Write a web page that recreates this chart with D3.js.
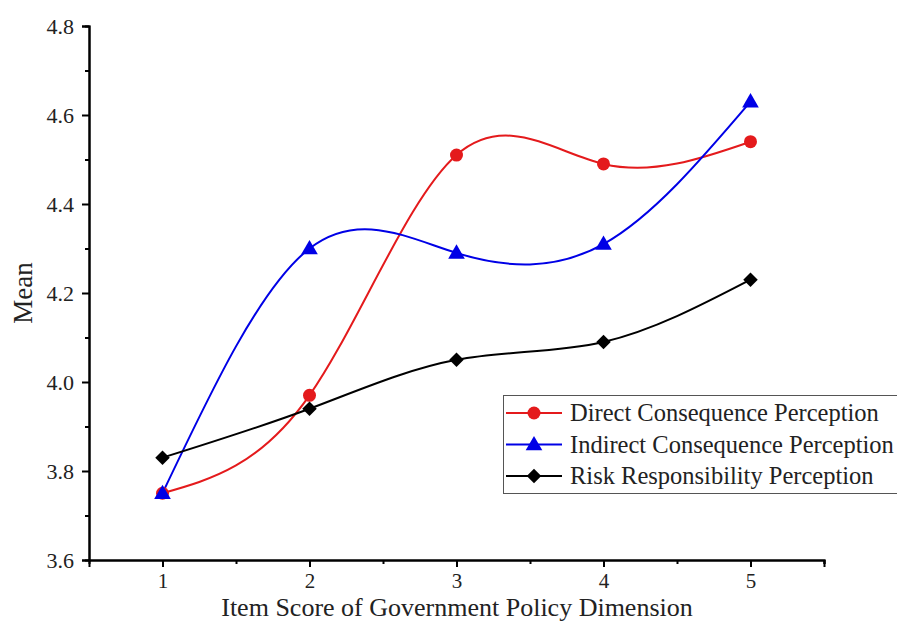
<!DOCTYPE html>
<html><head><meta charset="utf-8">
<script src="https://cdn.jsdelivr.net/npm/d3@7"></script>
<style>body{margin:0;background:#fff}svg{display:block}text{font-family:"Liberation Serif","Times New Roman",serif !important;fill:#222}</style>
</head><body>
<svg id="c" width="897" height="622"></svg>
<script>
const categories = [1, 2, 3, 4, 5];
const directValues = [3.75, 3.97, 4.51, 4.49, 4.54];
const indirectValues = [3.75, 4.30, 4.29, 4.31, 4.63];
const riskValues = [3.83, 3.94, 4.05, 4.09, 4.23];
const yTicks = [3.6, 3.8, 4.0, 4.2, 4.4, 4.6, 4.8];
const seriesNames = ["Direct Consequence Perception", "Indirect Consequence Perception", "Risk Responsibility Perception"];

const series = [
  {name: seriesNames[0], values: directValues, color: "#e41a1c", marker: "circle"},
  {name: seriesNames[1], values: indirectValues, color: "#0000e6", marker: "triangle"},
  {name: seriesNames[2], values: riskValues, color: "#000000", marker: "diamond"}
];

const FONT = '"Liberation Serif","Times New Roman",serif';
const svg = d3.select("#c");
const L = 89, R = 824, T = 26, B = 560;
const x = d3.scaleLinear().domain([0.5, 5.5]).range([L, R]);
const y = d3.scaleLinear().domain([3.6, 4.8]).range([B, T]);

// axes
const xAx = svg.append("g").attr("transform", `translate(0,${B})`)
  .call(d3.axisBottom(x).tickValues(categories).tickSize(7).tickPadding(6).tickFormat(d3.format("d")));
const xMinor = svg.append("g").attr("transform", `translate(0,${B})`)
  .call(d3.axisBottom(x).tickValues([1.5, 2.5, 3.5, 4.5, 5.5]).tickSize(4).tickFormat(""));
const yAx = svg.append("g").attr("transform", `translate(${L},0)`)
  .call(d3.axisLeft(y).tickValues(yTicks).tickSize(7).tickPadding(8).tickFormat(d3.format(".1f")));
const yMinor = svg.append("g").attr("transform", `translate(${L},0)`)
  .call(d3.axisLeft(y).tickValues([3.7, 3.9, 4.1, 4.3, 4.5, 4.7]).tickSize(4).tickFormat(""));
[xAx, xMinor, yAx, yMinor].forEach(g => {
  g.attr("font-family", FONT);
  g.selectAll(".domain").attr("stroke", "#000").attr("stroke-width", 2);
  g.selectAll(".tick line").attr("stroke", "#000").attr("stroke-width", 2);
  g.selectAll("text").style("font-family", FONT).attr("fill", "#222");
});
yAx.selectAll("text").style("font-size", "22px");
xAx.selectAll("text").style("font-size", "21px");

// lines
const line = d3.line().x((d, i) => x(categories[i])).y(d => y(d)).curve(d3.curveNatural);
function drawMarker(g, type, cx, cy, color) {
  if (type === "circle") g.append("circle").attr("cx", cx).attr("cy", cy).attr("r", 6.5).attr("fill", color);
  else if (type === "triangle") g.append("path").attr("d", d3.symbol(d3.symbolTriangle, 120)()).attr("transform", `translate(${cx},${cy+1})`).attr("fill", color);
  else g.append("path").attr("d", d3.symbol(d3.symbolSquare, 105)()).attr("transform", `translate(${cx},${cy}) rotate(45)`).attr("fill", color);
}
series.forEach(s => {
  svg.append("path").datum(s.values).attr("d", line).attr("fill", "none")
    .attr("stroke", s.color).attr("stroke-width", 2);
});
series.forEach(s => {
  const g = svg.append("g");
  s.values.forEach((v, i) => drawMarker(g, s.marker, x(categories[i]), y(v), s.color));
});

// legend
const lg = svg.append("g");
lg.append("rect").attr("x", 503.5).attr("y", 395.5).attr("width", 400).attr("height", 98)
  .attr("fill", "#fff").attr("stroke", "#555").attr("stroke-width", 1);
series.forEach((s, i) => {
  const yy = 413 + i * 31.5;
  lg.append("line").attr("x1", 506).attr("x2", 562).attr("y1", yy).attr("y2", yy).attr("stroke", s.color).attr("stroke-width", 2);
  drawMarker(lg, s.marker, 534, yy, s.color);
  lg.append("text").attr("x", 570).attr("y", yy + 8).style("font-size", "24.5px").text(s.name);
});

// titles
svg.append("text").attr("transform", `translate(32,${(T+B)/2}) rotate(-90)`).attr("text-anchor", "middle")
  .style("font-size", "27px").text("Mean");
svg.append("text").attr("x", 457).attr("y", 616).attr("text-anchor", "middle")
  .style("font-size", "26px").text("Item Score of Government Policy Dimension");
</script>
</body></html>
